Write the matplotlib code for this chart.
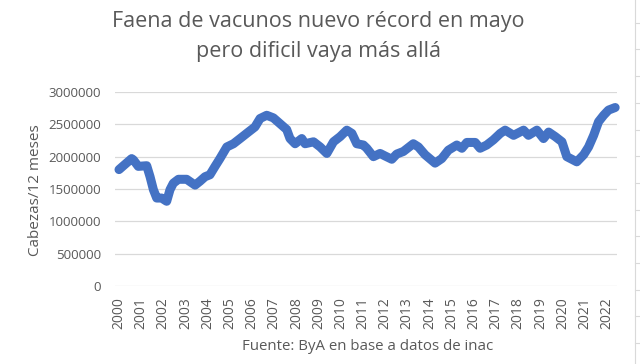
import matplotlib
matplotlib.use("Agg")
import matplotlib.pyplot as plt
from matplotlib.lines import Line2D

# Time (decimal year) and slaughter, heads over 12 months
t = [2000.00, 2000.20, 2000.57, 2000.65, 2000.87, 2001.25, 2001.40, 2001.55, 2001.70, 2001.92,
     2002.15, 2002.30, 2002.45, 2002.68, 2003.05, 2003.43, 2003.65, 2003.88, 2004.10, 2004.33,
     2004.55, 2004.86, 2005.16, 2005.46, 2005.83, 2006.13, 2006.36, 2006.66, 2006.96, 2007.26,
     2007.56, 2007.71, 2007.94, 2008.24, 2008.39, 2008.77, 2009.07, 2009.37, 2009.67, 2009.97,
     2010.27, 2010.50, 2010.72, 2011.02, 2011.17, 2011.47, 2011.77, 2012.00, 2012.30, 2012.52,
     2012.82, 2013.27, 2013.50, 2013.80, 2014.25, 2014.55, 2014.85, 2015.23, 2015.46, 2015.68,
     2016.06, 2016.28, 2016.58, 2016.88, 2017.19, 2017.41, 2017.79, 2018.24, 2018.46, 2018.84,
     2019.14, 2019.37, 2019.67, 2019.97, 2020.19, 2020.64, 2020.95, 2021.17, 2021.40, 2021.62,
     2021.85, 2022.07, 2022.37]
faena = [1800000, 1860000, 1970000, 1950000, 1850000, 1860000, 1690000, 1490000, 1360000, 1360000,
         1310000, 1490000, 1590000, 1650000, 1650000, 1560000, 1620000, 1690000, 1720000, 1850000,
         1970000, 2150000, 2200000, 2280000, 2380000, 2460000, 2590000, 2640000, 2600000, 2510000,
         2420000, 2280000, 2200000, 2280000, 2200000, 2230000, 2150000, 2050000, 2230000, 2310000,
         2410000, 2360000, 2200000, 2180000, 2130000, 2000000, 2050000, 2010000, 1960000, 2040000,
         2080000, 2200000, 2150000, 2030000, 1900000, 1970000, 2100000, 2180000, 2130000, 2220000,
         2220000, 2130000, 2180000, 2260000, 2360000, 2410000, 2330000, 2410000, 2330000, 2410000,
         2280000, 2380000, 2310000, 2230000, 2000000, 1920000, 2030000, 2150000, 2330000, 2540000,
         2640000, 2720000, 2760000]
years = list(range(2000, 2023))
yticks = [0, 500000, 1000000, 1500000, 2000000, 2500000, 3000000]

FONT = ["Open Sans", "DejaVu Sans"]
GREY = "#595959"

fig = plt.figure(figsize=(6.4, 3.64), dpi=100)
ax = fig.add_axes([115/640, 1-286/364, 502/640, 194/364])

ax.plot(t, faena, color="#4472C4", lw=6.5, solid_capstyle="round",
        solid_joinstyle="round", clip_on=False, zorder=3)

ax.set_ylim(0, 3000000)
ax.set_xlim(2000 - 4/22.18, 2000 + 498/22.18)
ax.set_yticks(yticks)
ax.set_yticklabels([str(v) for v in yticks], fontsize=9.5, color=GREY, family=FONT)
ax.set_xticks(years)
ax.set_xticklabels([str(y) for y in years], rotation=90, fontsize=10, color=GREY, family=FONT)
ax.tick_params(axis="both", length=0)
ax.tick_params(axis="y", pad=10)
ax.tick_params(axis="x", pad=8)
ax.grid(axis="y", color="#d9d9d9", lw=0.9)
ax.set_axisbelow(True)
for s in ax.spines.values():
    s.set_visible(False)

ax.set_ylabel("Cabezas/12 meses", fontsize=11, color=GREY, family=FONT)
ax.yaxis.set_label_coords((43-115)/502, (286-190)/194)

fig.text(318/640, 1-22/364, "Faena de vacunos nuevo récord en mayo", ha="center", va="center",
         fontsize=15.5, color=GREY, family=FONT)
fig.text(318/640, 1-52/364, "pero dificil vaya más allá", ha="center", va="center",
         fontsize=15.5, color=GREY, family=FONT)
fig.text(368/640, 1-346/364, "Fuente: ByA en base a datos de inac", ha="center", va="center",
         fontsize=10.8, color=GREY, family=FONT)

# spreadsheet cell borders at right edge
fig.add_artist(Line2D([635/640, 635/640], [0, 1], transform=fig.transFigure, color="#d9d9d9", lw=0.8))
yy = 22.7
while yy < 364:
    fig.add_artist(Line2D([635/640, 1], [1-yy/364, 1-yy/364], transform=fig.transFigure,
                          color="#d9d9d9", lw=0.8))
    yy += 26.7

fig.savefig("out.png", dpi=100)
